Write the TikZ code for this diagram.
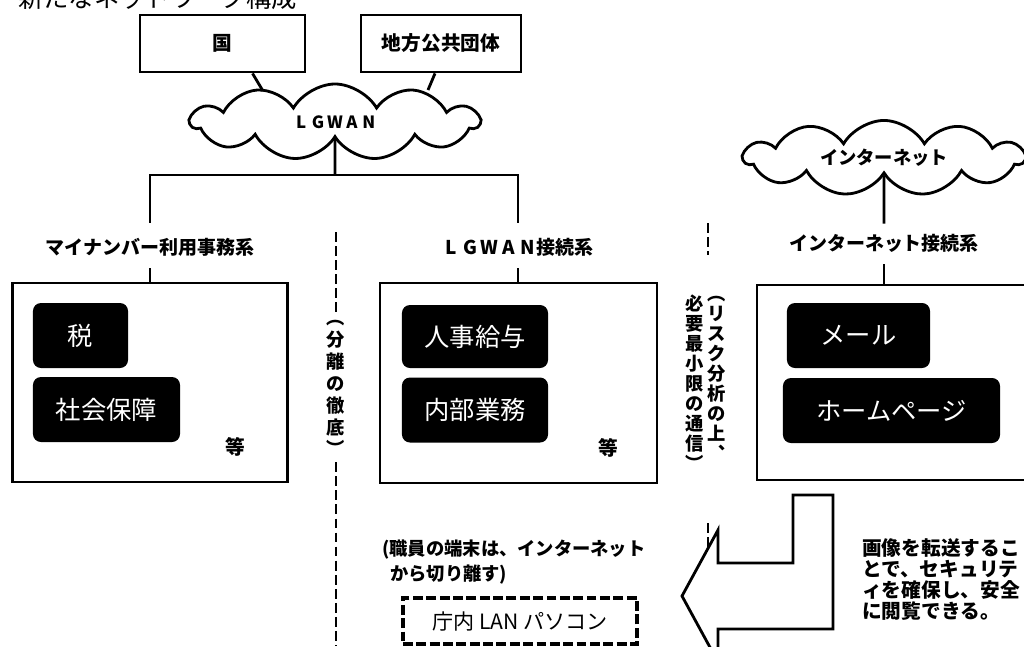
\documentclass[tikz,border=0pt]{standalone}
\usepackage{fontspec}
\setmainfont{Noto Sans CJK JP}
\usepackage{tikz}
\usetikzlibrary{shapes.symbols,calc}
\newcommand{\fw}[1]{\makebox[1em]{#1}}
\tikzset{
    topbox/.style={
        draw,
        line width=2pt,
        minimum height=1.425cm,
        font=\bfseries\fontsize{14}{17}\selectfont
    },
    netcloud/.style={
        cloud,
        draw,
        line width=2pt,
        cloud puffs=11,
        cloud puff arc=120,
        aspect=3.8,
        inner sep=0pt,
        font=\bfseries\fontsize{13}{16}\selectfont
    },
    syslabel/.style={
        inner sep=0pt,
        font=\bfseries\fontsize{13.5}{17}\selectfont
    },
    sysbox/.style={
        draw,
        line width=2pt
    },
    appbox/.style={
        fill=black,
        text=white,
        rounded corners=0.2cm,
        minimum height=1.625cm,
        font=\fontsize{18}{22}\selectfont
    },
    etc/.style={
        inner sep=0pt,
        font=\bfseries\fontsize{14}{17}\selectfont
    },
    vtext/.style={
        align=center,
        inner sep=0pt,
        font=\bfseries\fontsize{13}{#1}\selectfont
    },
    vtext/.default=15.6,
    note/.style={
        align=left,
        inner sep=0pt,
        font=\bfseries\fontsize{13}{#1}\selectfont
    },
    note/.default=17.8,
    link/.style={line width=2pt},
    sepline/.style={line width=1.4pt, dash pattern=on 7pt off 3pt},
    pcbox/.style={
        draw,
        line width=2.4pt,
        dash pattern=on 7pt off 2.5pt,
        font=\fontsize{15}{18}\selectfont
    },
}

\begin{document}
\begin{tikzpicture}[x=0.025cm, y=-0.025cm]
    \useasboundingbox (0,0) rectangle (1024,646);

    % Title, cut by the top edge
    \node[anchor=base west, inner sep=0pt, font=\fontsize{18}{22}\selectfont]
      (title) at (18,7) {新たなネットワーク構成};

    % Top boxes and LGWAN cloud
    \node[topbox, minimum width=4.125cm] (kuni) at (222.5,43.5) {国};
    \node[topbox, minimum width=4cm] (chiho) at (441,43.5) {地方公共団体};
    \node[netcloud, minimum width=7.2cm, minimum height=1.9cm,
      font=\bfseries\fontsize{12}{15}\selectfont] (lgwan) at (335,122) {\fw{L}\fw{G}\fw{W}\fw{A}\fw{N}};
    \draw[link] ([xshift=0.75cm]kuni.south) -- ($(lgwan.center)+(-72,-31)$);
    \draw[link] ([xshift=-0.15cm]chiho.south) -- ($(lgwan.center)+(93,-32)$);

    % Internet cloud
    \node[netcloud, minimum width=7cm, minimum height=1.8cm] (internet) at (884,158) {インターネット};

    % Labels of the three systems
    \node[syslabel] (mylbl) at (150,247) {マイナンバー利用事務系};
    \node[syslabel] (lglbl) at (518,247) {\fw{L}\fw{G}\fw{W}\fw{A}\fw{N}接続系};
    \node[syslabel] (netlbl) at (884,243) {インターネット接続系};

    % Branch from LGWAN to the two systems
    \coordinate (branch) at (335,175);
    \draw[link] (lgwan.south) -- (branch);
    \draw[link] ([yshift=0.375cm]mylbl.north) |- (branch) -| ([yshift=0.375cm]lglbl.north);
    \draw[link] (internet.south) -- ([yshift=0.25cm]netlbl.north);

    % System boxes
    \node[sysbox, minimum width=6.875cm, minimum height=4.975cm] (mynum) at (150,382.5) {};
    \node[sysbox, minimum width=6.925cm, minimum height=5cm] (lgsys) at (518.5,383) {};
    \node[sysbox, minimum width=6.9cm, minimum height=4.875cm] (netsys) at (895,382.5) {};
    \draw[link, shorten <=0.3cm] (mylbl) -- (mylbl |- mynum.north);
    \draw[link, shorten <=0.3cm] (lglbl) -- (lglbl |- lgsys.north);
    \draw[link, shorten <=0.3cm] (netlbl) -- (netlbl |- netsys.north);

    % Business applications
    \node[appbox, minimum width=2.375cm] (zei) at (80.5,335.5) {税};
    \node[appbox, minimum width=3.675cm] (shakai) at (106.5,409.5) {社会保障};
    \node[etc] (etca) at (235,447) {等};

    \node[appbox, minimum width=3.65cm, minimum height=1.575cm] (jinji) at (475,336.5) {人事給与};
    \node[appbox, minimum width=3.65cm] (naibu) at (475,410) {内部業務};
    \node[etc] (etcb) at (608,448) {等};

    \node[appbox, minimum width=3.575cm] (mail) at (858.5,335.5) {メール};
    \node[appbox, minimum width=5.425cm] (homepage) at (891.5,410.5) {ホームページ};

    % Separation between the systems
    \node[vtext] (bunri) at (336,388) {︵\\分\\離\\の\\徹\\底\\︶};
    \coordinate (sepatop) at (336,232);
    \coordinate (sepabot) at (336,646);
    \draw[sepline, shorten >=0.15cm] (sepatop) -- (sepatop |- bunri.north);
    \draw[sepline, shorten <=0.15cm] (sepabot |- bunri.south) -- (sepabot);

    \node[vtext=14.2, anchor=north] (risk) at (717,296) {︵\\リ\\ス\\ク\\分\\析\\の\\上\\︑};
    \node[vtext=14.2, anchor=north] (riskb) at (695,295) {必\\要\\最\\小\\限\\の\\通\\信\\︶};
    \coordinate (sepbtop) at (708,223);
    \coordinate (sepbbot) at (708,573);
    \draw[sepline, shorten >=1cm] (sepbtop) -- (sepbtop |- riskb.north);
    \draw[sepline, shorten <=1.3cm] (sepbbot |- riskb.south) -- (sepbbot);

    % Staff terminals
    \node[note=17.8, anchor=west] (staff) at (382,562)
      {(職員の端末は、インターネット\\\hspace{0.2cm}から切り離す)};
    \node[pcbox, minimum width=5.85cm, minimum height=1.15cm] (pc) at (520,621) {庁内 LAN パソコン};

    % Block arrow from the internet system
    \draw[line width=2pt, fill=white]
      (793,495) -- (833,495) -- (833,629) -- (718,629) -- (718,662) --
      (682,596) -- (718,530) -- (718,563) -- (793,563) -- cycle;

    \node[note=14.9, anchor=north west, font=\bfseries\fontsize{14}{14.9}\selectfont] (viewnote) at (862,538)
      {画像を転送するこ\\とで、セキュリテ\\ィを確保し、安全\\に閲覧できる。};

\end{tikzpicture}
\end{document}
